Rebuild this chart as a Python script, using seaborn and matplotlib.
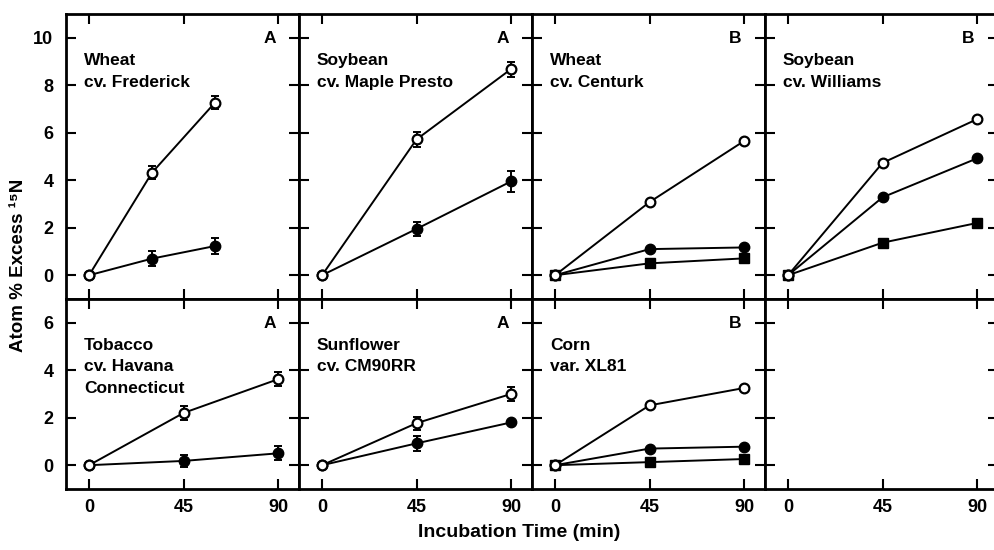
import matplotlib
matplotlib.use("Agg")
import matplotlib.pyplot as plt
import seaborn as sns

# incubation times (min)
times = [0, 45, 90]
frederick_times = [0, 30, 60]

# panel text, in reading order (top row then bottom row)
crop_names = ["Wheat\ncv. Frederick", "Soybean\ncv. Maple Presto",
              "Wheat\ncv. Centurk", "Soybean\ncv. Williams",
              "Tobacco\ncv. Havana\nConnecticut", "Sunflower\ncv. CM90RR",
              "Corn\nvar. XL81"]
panel_tags = ["A", "A", "B", "B", "A", "A", "B"]
panel_times = [frederick_times, times, times, times, times, times, times]

# open circles
open_vals = [[0, 4.32, 7.27], [0, 5.72, 8.68], [0, 3.08, 5.65], [0, 4.73, 6.57],
             [0, 2.2, 3.62], [0, 1.77, 3.0], [0, 2.52, 3.25]]
open_err = [[0, 0.28, 0.28], [0, 0.3, 0.32], None, None,
            [0, 0.3, 0.3], [0, 0.27, 0.3], None]

# filled circles
filled_vals = [[0, 0.7, 1.23], [0, 1.95, 3.95], [0, 1.1, 1.17], [0, 3.28, 4.92],
               [0, 0.18, 0.5], [0, 0.92, 1.8], [0, 0.7, 0.78]]
filled_err = [[0, 0.3, 0.32], [0, 0.3, 0.45], None, None,
              [0, 0.25, 0.3], [0, 0.33, 0], None]

# filled squares (only the "B" panels)
square_vals = [None, None, [0, 0.5, 0.71], [0, 1.37, 2.2],
               None, None, [0, 0.13, 0.26]]

x_ticks = [0, 45, 90]
top_yticks = [0, 2, 4, 6, 8, 10]
bottom_yticks = [0, 2, 4, 6]

sns.set_style("ticks")
plt.rcParams["font.family"] = ["Liberation Sans", "DejaVu Sans"]
plt.rcParams["font.weight"] = "bold"
plt.rcParams["text.color"] = "black"
plt.rcParams["xtick.color"] = "black"
plt.rcParams["ytick.color"] = "black"
plt.rcParams["axes.edgecolor"] = "black"

fig, axes = plt.subplots(2, 4, figsize=(9.95, 5.5), dpi=100, sharex=True, sharey="row",
                         gridspec_kw=dict(height_ratios=[12, 8], wspace=0, hspace=0))
fig.subplots_adjust(left=0.0663, right=1.003, top=0.9745, bottom=0.111)

lw = 1.4
for i, ax in enumerate(axes.flat):
    row, col = divmod(i, 4)
    if i < len(crop_names):
        x = panel_times[i]
        # error bars first so markers sit on top
        if open_err[i] is not None:
            ax.errorbar(x, open_vals[i], yerr=open_err[i], fmt="none", ecolor="black",
                        elinewidth=lw, capsize=3, capthick=lw, zorder=1)
        if filled_err[i] is not None:
            ax.errorbar(x, filled_vals[i], yerr=filled_err[i], fmt="none", ecolor="black",
                        elinewidth=lw, capsize=3, capthick=lw, zorder=1)
        if square_vals[i] is not None:
            sns.lineplot(x=x, y=square_vals[i], ax=ax, color="black", lw=lw, marker="s",
                         markersize=6.5, markerfacecolor="black", markeredgecolor="black",
                         markeredgewidth=1, zorder=2)
        sns.lineplot(x=x, y=filled_vals[i], ax=ax, color="black", lw=lw, marker="o",
                     markersize=7.5, markerfacecolor="black", markeredgecolor="black",
                     markeredgewidth=1, zorder=3)
        sns.lineplot(x=x, y=open_vals[i], ax=ax, color="black", lw=lw, marker="o",
                     markersize=7, markerfacecolor="white", markeredgecolor="black",
                     markeredgewidth=1.6, zorder=4)

        ax.annotate(crop_names[i], xy=(0, 1), xycoords="axes fraction",
                    xytext=(13, -28), textcoords="offset points", ha="left", va="top",
                    fontsize=12.5, fontweight="bold", linespacing=1.55)
        ax.annotate(panel_tags[i], xy=(86, 1), xycoords=("data", "axes fraction"),
                    xytext=(0, -12), textcoords="offset points", ha="center", va="top",
                    fontsize=12.5, fontweight="bold")

    ax.set_xlim(-11, 100)
    ax.set_xticks(x_ticks)
    if row == 0:
        ax.set_ylim(-1, 11)
        ax.set_yticks(top_yticks)
    else:
        ax.set_ylim(-1, 7)
        ax.set_yticks(bottom_yticks)
    ax.set_xlabel("")
    ax.set_ylabel("")
    for s in ax.spines.values():
        s.set_visible(True)
        s.set_linewidth(2)
        s.set_edgecolor("black")
    ax.tick_params(direction="in", top=True, right=True, bottom=True, left=True,
                   length=7, width=1.5, labelsize=13, labeltop=False, labelright=False,
                   labelbottom=(row == 1), labelleft=(col == 0), colors="black")
    ax.tick_params(axis="x", pad=7)
    ax.tick_params(axis="y", pad=9)

fig.text(0.019, 0.518, "Atom % Excess ¹⁵N", rotation=90, ha="center", va="center",
         fontsize=13.5, fontweight="bold")
fig.text(0.522, 0.031, "Incubation Time (min)", ha="center", va="center",
         fontsize=14, fontweight="bold")

fig.savefig("out.png", dpi=100)
